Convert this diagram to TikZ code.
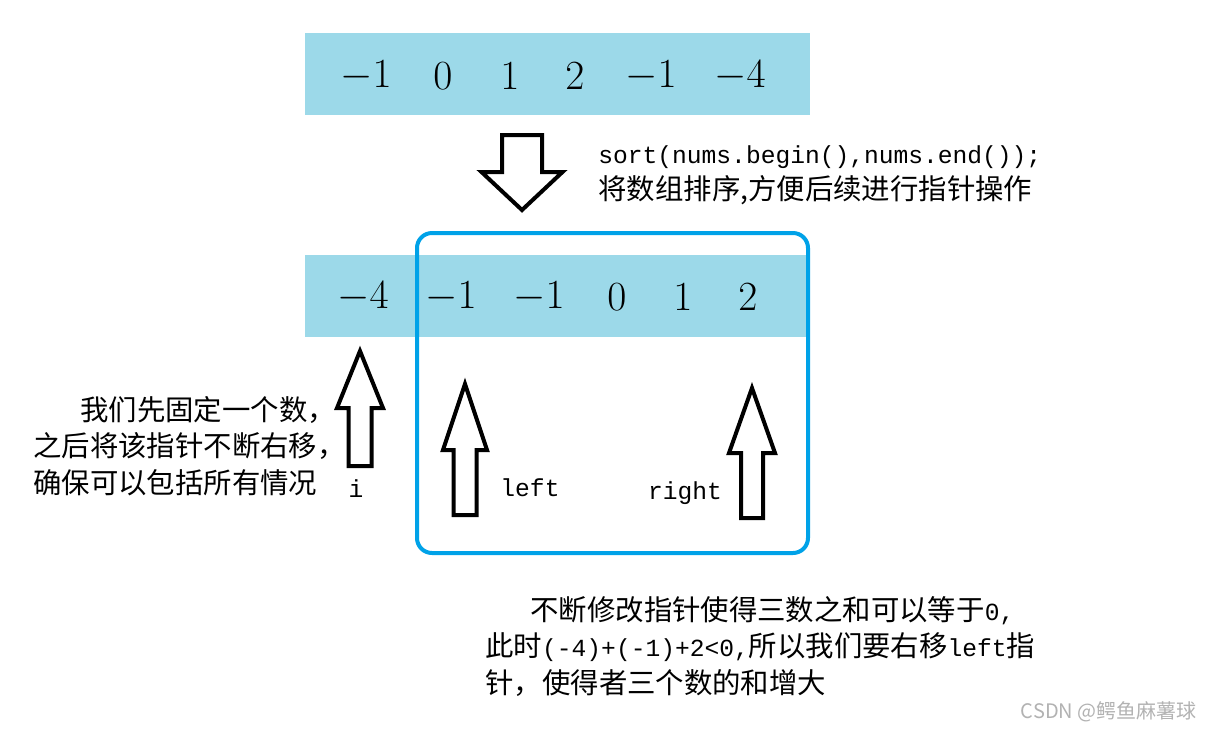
\documentclass[tikz,border=0pt]{standalone}
\usepackage{fontspec}
\usepackage{xcolor}
\usepackage{tikz}
\usetikzlibrary{positioning}
\newfontfamily\cjk{Noto Sans CJK SC}
\newfontfamily\mono{Liberation Mono}
\newcommand{\codetxt}[1]{{\mono\fontsize{12.3}{18.25}\selectfont #1}}
\definecolor{barblue}{RGB}{156,217,233}
\definecolor{boxblue}{RGB}{0,162,232}

\begin{document}
\begin{tikzpicture}[x=0.5pt, y=-0.5pt,
  bar/.style={fill=barblue, minimum width=252.5pt, minimum height=41pt, inner sep=0pt},
  num/.style={font=\fontsize{20.5}{24}\selectfont, inner sep=0pt},
  note/.style={font=\cjk\fontsize{14.2}{18.25}\selectfont, align=left, anchor=north west, inner sep=0pt},
  ptr/.style={font=\mono\fontsize{12.3}{15}\selectfont, inner sep=0pt, anchor=base},
  hollow/.style={draw, line width=2pt, fill=white}]
\useasboundingbox (0,0) rectangle (1212,730);

% Unsorted array
\node[bar] (raw) at (557.5,74) {};
\foreach \v/\x [count=\k] in {-1/366,0/443,1/510,2/575,-1/651,-4/740}
  \node[num] (raw\k) at (\x,76) {$\v$};

% Sorted array
\node[bar] (sorted) at (557.5,296) {};
\foreach \v/\x [count=\k] in {-4/363,-1/451,-1/539,0/617,1/683,2/748}
  \node[num] (srt\k) at (\x,297) {$\v$};

% Two-pointer window
\node[draw=boxblue, line width=2pt, rounded corners=7.5pt, minimum width=195.5pt,
  minimum height=160pt, inner sep=0pt] (window) at (612.5,393) {};

% Block arrows: x / tip / head base / tail / head half width / shaft half width
\foreach \x/\tip/\base/\tail/\hw/\sw in {522/210/172/135/40.5/20,
    360/351/408/466/23/11.5, 465/384/450/515/22/11.5, 752/388/453/518/23/11}
  \draw[hollow] (\x,\tip) -- (\x+\hw,\base) -- (\x+\sw,\base) -- (\x+\sw,\tail)
    -- (\x-\sw,\tail) -- (\x-\sw,\base) -- (\x-\hw,\base) -- cycle;

% Pointer names
\node[ptr] (ptri) at (356,497) {i};
\node[ptr] (ptrleft) at (530,496) {left};
\node[ptr] (ptrright) at (685,499) {right};

% Notes
\node[note] (sortnote) at (598,145)
{\codetxt{sort(nums.begin(),nums.end());}\\将数组排序,方便后续进行指针操作};
\node[note] (fixnote) at (33,396)
{\hspace*{23.5pt}我们先固定一个数，\\之后将该指针不断右移，\\确保可以包括所有情况};
\node[note] (movenote) at (485,596)
{\hspace*{22.5pt}不断修改指针使得三数之和可以等于\codetxt{0,}\\此时\codetxt{(-4)+(-1)+2<0,}所以我们要右移\codetxt{left}指\\针，使得者三个数的和增大};

% Watermark
\node[font=\cjk\fontsize{10}{12}\selectfont, text=black!30, anchor=east, inner sep=0pt]
  (mark) at (1197,712) {CSDN @鳄鱼麻薯球};
\end{tikzpicture}
\end{document}
